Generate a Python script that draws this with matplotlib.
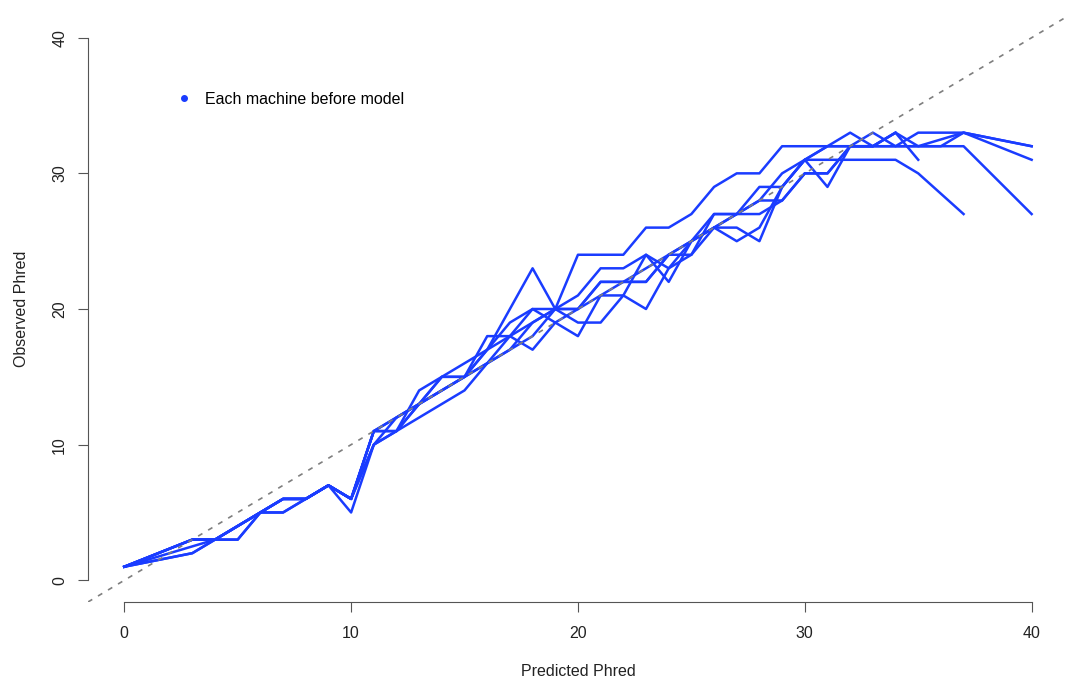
# Observed vs predicted Phred, one line per machine
import numpy as np
from matplotlib import pyplot as plt

plt.rcParams['font.family'] = ['Liberation Sans', 'DejaVu Sans']

# predicted quality values (x) and observed quality (y) per machine
m1_x = [0, 3, 4, 5, 6, 7, 8, 9, 10, 11, 12, 13, 14, 15, 16, 17, 18, 19, 20, 21, 22, 23, 24, 25, 26, 27, 28, 29, 30, 31, 32, 33, 34, 35, 36, 37, 40]
m1_y = [1, 3, 3, 4, 5, 6, 6, 7, 6, 11, 11, 14, 15, 15, 18, 18, 20, 20, 20, 22, 22, 22, 24, 25, 27, 27, 29, 29, 31, 32, 32, 33, 32, 33, 33, 33, 32]

m2_x = [0, 3, 4, 5, 6, 7, 8, 9, 10, 11, 12, 13, 14, 15, 16, 17, 18, 19, 20, 21, 22, 23, 24, 25, 26, 27, 28, 29, 30, 31, 32, 33, 34, 35, 36, 37, 40]
m2_y = [1, 3, 3, 3, 5, 5, 6, 7, 5, 10, 11, 13, 14, 15, 17, 20, 23, 20, 24, 24, 24, 26, 26, 27, 29, 30, 30, 32, 32, 32, 32, 32, 32, 32, 32, 32, 27]

m3_x = [0, 3, 4, 5, 6, 7, 8, 9, 10, 11, 12, 13, 14, 15, 16, 17, 18, 19, 20, 21, 22, 23, 24, 25, 26, 27, 28, 29, 30, 31, 32, 33, 34, 35, 37]
m3_y = [1, 2, 3, 3, 5, 5, 6, 7, 6, 10, 11, 12, 13, 14, 16, 18, 17, 19, 18, 21, 21, 20, 23, 24, 26, 26, 25, 29, 31, 31, 31, 31, 31, 30, 27]

m4_x = [0, 3, 4, 5, 6, 7, 8, 9, 10, 11, 12, 13, 14, 15, 16, 17, 18, 19, 20, 21, 22, 23, 24, 25, 26, 27, 28, 29, 30, 31, 32, 33, 34, 35, 37, 40]
m4_y = [1, 2.5, 3, 4, 5, 6, 6, 7, 6, 11, 11, 13, 15, 16, 17, 18, 19, 20, 19, 19, 21, 24, 23, 25, 26, 25, 26, 29, 31, 29, 32, 32, 33, 32, 33, 31]

m5_x = [0, 3, 4, 5, 6, 7, 8, 9, 10, 11, 12, 13, 14, 15, 16, 17, 18, 19, 20, 21, 22, 23, 24, 25, 26, 27, 28, 29, 30, 31, 32, 33, 34, 35]
m5_y = [1, 3, 3, 4, 5, 6, 6, 7, 6, 10, 12, 13, 14, 15, 16, 17, 18, 20, 21, 23, 23, 24, 22, 25, 26, 27, 28, 28, 30, 30, 32, 32, 33, 31]

m6_x = [0, 3, 4, 5, 6, 7, 8, 9, 10, 11, 12, 13, 14, 15, 16, 17, 18, 19, 20, 21, 22, 23, 24, 25, 26, 27, 28, 29, 30, 31, 32, 33, 34, 35, 36, 37, 40]
m6_y = [1, 2, 3, 4, 5, 6, 6, 7, 6, 11, 12, 13, 14, 15, 16, 17, 19, 20, 20, 21, 22, 23, 24, 25, 26, 27, 27, 28, 30, 30, 32, 32, 32, 32, 32, 33, 32]

m7_x = [0, 3, 4, 5, 6, 7, 8, 9, 10, 11, 12, 13, 14, 15, 16, 17, 18, 19, 20, 21, 22, 23, 24, 25, 26, 27, 28, 29, 30, 31, 32, 33, 34]
m7_y = [1, 3, 3, 4, 5, 6, 6, 7, 6, 11, 12, 13, 15, 15, 17, 19, 20, 19, 20, 22, 22, 22, 24, 24, 27, 27, 28, 30, 31, 32, 33, 32, 33]

machines = [(m1_x, m1_y), (m2_x, m2_y), (m3_x, m3_y), (m4_x, m4_y),
            (m5_x, m5_y), (m6_x, m6_y), (m7_x, m7_y)]

fig = plt.figure(figsize=(10.69, 6.81), dpi=100)
ax = fig.add_axes([0.0823, 0.116, 0.9167, 0.8605])

# one line per machine
for mx, my in machines:
    ax.plot(mx, my, color='#1a3cff', lw=1.8, label='_nolegend_')

# identity line
ax.axline((0, 0), slope=1, color='#7f7f7f', lw=1.2, ls=(0, (3, 4)))

ax.set_xlim(-1.6, 41.6)
ax.set_ylim(-1.6, 41.6)
ax.set_xticks([0, 10, 20, 30, 40])
ax.set_yticks([0, 10, 20, 30, 40])
ax.set_yticklabels(['0', '10', '20', '30', '40'], rotation=90, va='center')

for s in ['top', 'right']:
    ax.spines[s].set_visible(False)
ax.spines['left'].set_bounds(0, 40)
ax.spines['bottom'].set_bounds(0, 40)
for s in ['left', 'bottom']:
    ax.spines[s].set_color('#555555')
ax.tick_params(length=7, color='#555555', labelsize=11.5, pad=10, labelcolor='#222222')
ax.tick_params(axis='y', pad=8)

# naming the axes
ax.set_xlabel('Predicted Phred', fontsize=11.5, labelpad=17, color='#222222')
ax.set_ylabel('Observed Phred', fontsize=11.5, labelpad=17, color='#222222')

dot = plt.Line2D([], [], color='#1a3cff', marker='o', ls='none', markersize=4)
ax.legend([dot], ['Each machine before model'], loc='center left', frameon=False,
          bbox_to_anchor=(0.071, 0.858), fontsize=11.5, handletextpad=0.6, handlelength=1.5)

plt.savefig('out.png', dpi=100)
